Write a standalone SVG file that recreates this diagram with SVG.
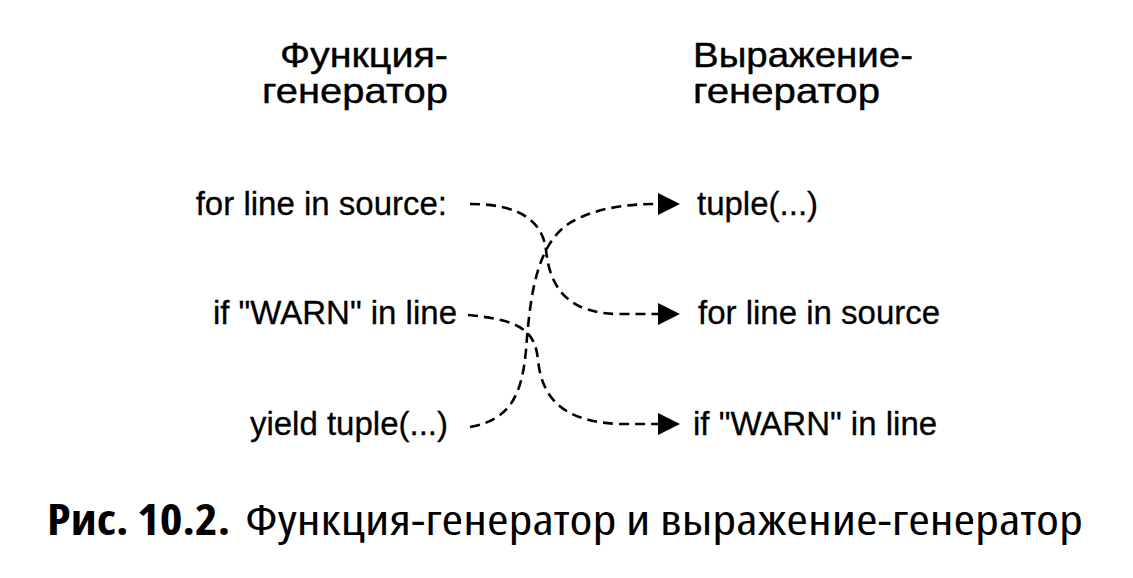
<svg xmlns="http://www.w3.org/2000/svg" width="1133" height="578" viewBox="0 0 1133 578">
<defs>
<style>
.lbl{font-family:"Liberation Sans",Arial,sans-serif;font-size:33px;fill:#000;stroke:#000;stroke-width:0.3}
.ttl{font-family:"Liberation Sans",Arial,sans-serif;font-size:35px;fill:#000;stroke:#000;stroke-width:0.4}
.r{text-anchor:end}
.cap{font-family:"Open Sans","Noto Sans",sans-serif;font-size:42px;font-stretch:condensed;fill:#000}
.conn{fill:none;stroke:#000;stroke-width:2.6;stroke-dasharray:10 6}
</style>
<marker id="arr" markerUnits="userSpaceOnUse" markerWidth="24" markerHeight="24" refX="0" refY="11" orient="auto" viewBox="0 0 24 22">
<path d="M0,0 L22,11 L0,22 Z" fill="#000"/>
</marker>
</defs>
<rect width="1133" height="578" fill="#fff"/>
<g id="title-left">
<text class="ttl" x="280" y="67" textLength="168" lengthAdjust="spacingAndGlyphs">Функция-</text>
<text class="ttl" x="262" y="103" textLength="186" lengthAdjust="spacingAndGlyphs">генератор</text>
</g>
<g id="title-right">
<text class="ttl" x="693" y="67" textLength="220" lengthAdjust="spacingAndGlyphs">Выражение-</text>
<text class="ttl" x="693" y="103" textLength="187" lengthAdjust="spacingAndGlyphs">генератор</text>
</g>
<g id="left-for"><text class="lbl r" x="447" y="215">for line in source:</text></g>
<g id="left-if"><text class="lbl r" x="457" y="324">if "WARN" in line</text></g>
<g id="left-yield"><text class="lbl r" x="448" y="435">yield tuple(...)</text></g>
<g id="right-tuple"><text class="lbl" x="697" y="215">tuple(...)</text></g>
<g id="right-for"><text class="lbl" x="698" y="324">for line in source</text></g>
<g id="right-if"><text class="lbl" x="693" y="435">if "WARN" in line</text></g>
<g id="connectors">
<path class="conn" marker-end="url(#arr)" d="M470,204 C525,204 543,225 546,250 C550,290 570,314 620,314 L658,314"/>
<path class="conn" marker-end="url(#arr)" d="M470,427 C510,420 522,395 526,350 C530,300 535,240 575,220 C600,207 630,204 658,204"/>
<path class="conn" marker-end="url(#arr)" d="M468,315 C520,320 535,330 538,360 C542,400 565,422 620,424 L658,424"/>
</g>
<g id="caption">
<text class="cap" x="47" y="535" font-weight="bold" textLength="183" lengthAdjust="spacingAndGlyphs">Рис. 10.2.</text>
<text class="cap" x="245" y="535" textLength="838" lengthAdjust="spacingAndGlyphs">Функция-генератор и выражение-генератор</text>
</g>
</svg>
